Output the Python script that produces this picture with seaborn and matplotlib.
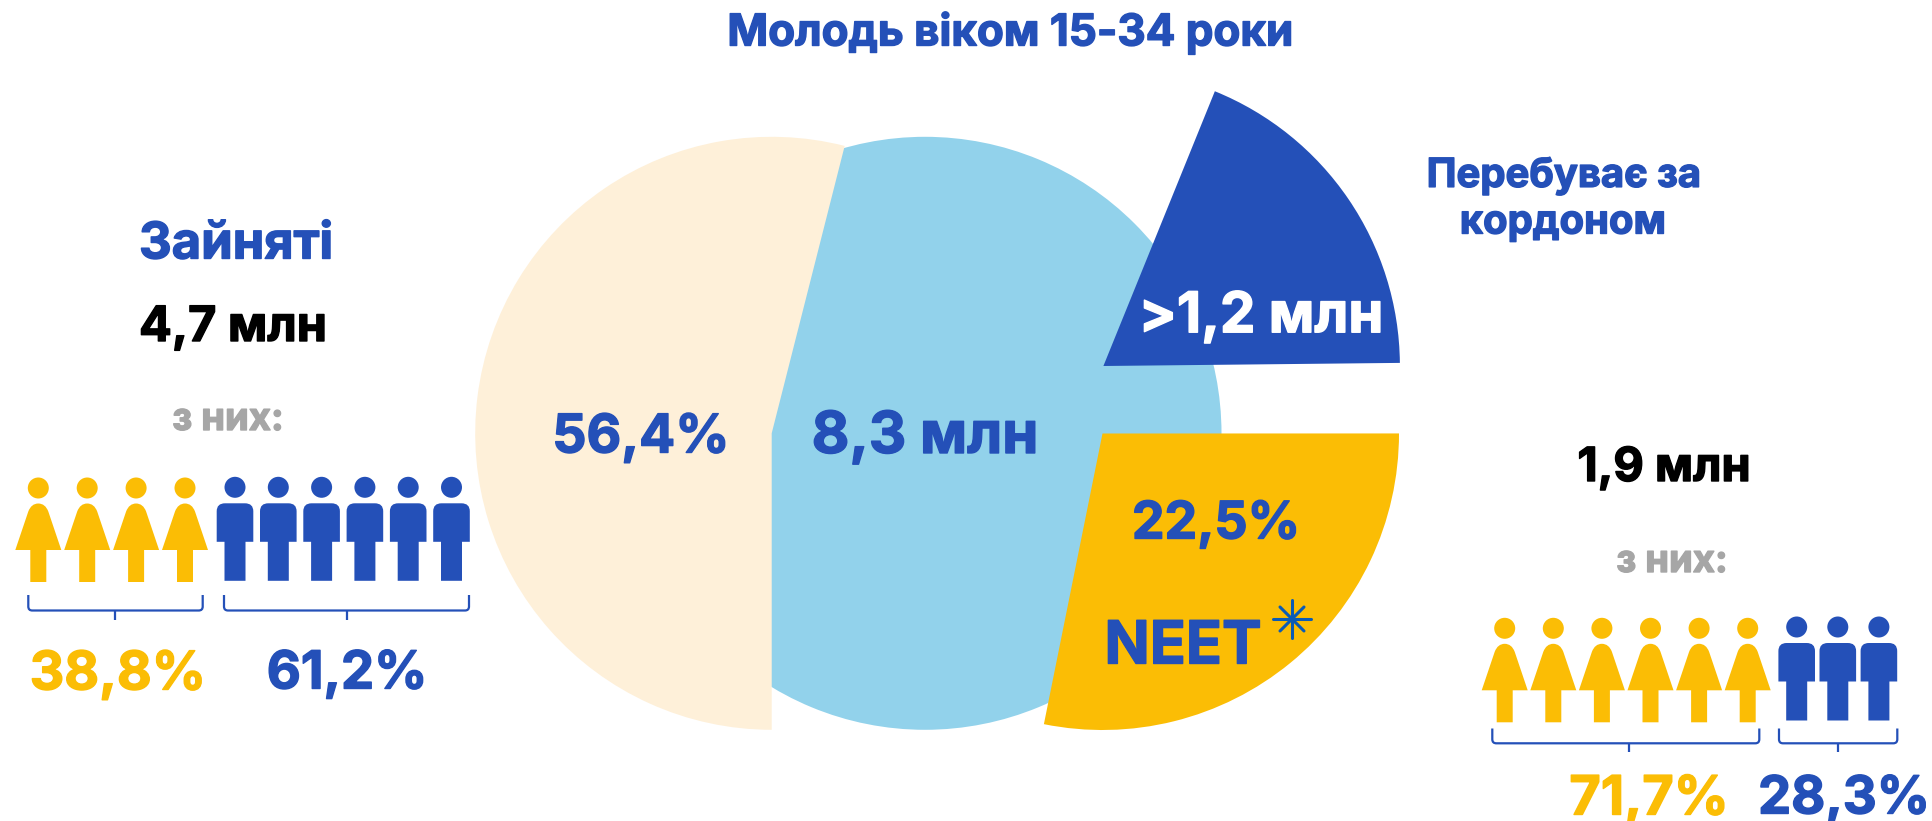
import matplotlib

matplotlib.use("Agg", force=True)
import matplotlib.patheffects as pe
import matplotlib.pyplot as plt
import seaborn as sns
from matplotlib.patches import Circle, PathPatch
from matplotlib.path import Path

WIDTH, HEIGHT = 1933, 821

# pie slices as drawn (percent of a full turn), the picture is not to scale
cream_slice = [53.96, 46.04]
total_slice = [100.0]
abroad_slice = [18.7, 81.3]
neet_slice = [28.17, 71.83]

title = "Молодь віком 15-34 роки"
employed_label = "Зайняті"
employed_total = "4,7 млн"
neet_total = "1,9 млн"
of_them = "з них:"
abroad_label = ["Перебуває за", "кордоном"]
employed_share = "56,4%"
youth_total = "8,3 млн"
abroad_total = ">1,2 млн"
neet_share = "22,5%"
neet_label = "NEET"

employed_women_count = 4
employed_men_count = 6
neet_women_count = 6
neet_men_count = 3
employed_women_pct = "38,8%"
employed_men_pct = "61,2%"
neet_women_pct = "71,7%"
neet_men_pct = "28,3%"

CREAM, SKY, BLUE, YELLOW = sns.color_palette(["#FEF0D9", "#92D2EB", "#2450B8", "#FBBD05"])
GREY = "#A6A6A6"


def fy(y):
    # reference pixels count from the top, the axes from the bottom
    return HEIGHT - y


def add_text(ax, x, y, text, color=BLUE, size=40, ha="center"):
    # the original typeface is heavier than Inter Bold, a thin stroke makes up for it
    ax.text(
        x,
        fy(y),
        text,
        color=color,
        fontsize=size,
        fontweight="bold",
        ha=ha,
        va="center",
        zorder=10,
        path_effects=[pe.withStroke(linewidth=1.0, foreground=color)],
    )


def add_slice(ax, values, color, center, start):
    colors = [color, (0, 0, 0, 0)][: len(values)]
    ax.pie(
        values,
        colors=colors,
        center=(center[0], fy(center[1])),
        radius=296.5,
        startangle=start,
        counterclock=True,
        wedgeprops={"linewidth": 0},
        normalize=True,
    )


def add_woman(ax, x, head_y):
    ax.add_patch(Circle((x, fy(head_y)), 10.5, color=YELLOW, lw=0))
    top, skirt, foot = head_y + 15.5, head_y + 62, head_y + 94
    verts = [
        (x - 23, skirt),
        (x - 10, top + 8),
        (x - 7, top),
        (x, top),
        (x + 7, top),
        (x + 10, top + 8),
        (x + 23, skirt),
        (x + 8, skirt),
        (x + 8, foot),
        (x - 8, foot),
        (x - 8, skirt),
        (x - 23, skirt),
    ]
    codes = [Path.MOVETO, Path.LINETO, Path.CURVE3, Path.CURVE3, Path.CURVE3, Path.CURVE3] + [Path.LINETO] * 6
    path = Path([(vx, fy(vy)) for vx, vy in verts], codes)
    ax.add_patch(PathPatch(path, facecolor=YELLOW, lw=0))


def add_man(ax, x, head_y):
    ax.add_patch(Circle((x, fy(head_y)), 10.5, color=BLUE, lw=0))
    top, waist, foot = head_y + 16, head_y + 54.5, head_y + 93.5
    verts = [
        (x - 18.3, waist),
        (x - 18.3, top + 8),
        (x - 18.3, top),
        (x - 10, top),
        (x + 10, top),
        (x + 18.3, top),
        (x + 18.3, top + 8),
        (x + 18.3, waist),
        (x + 10.5, waist),
        (x + 10.5, foot),
        (x - 10.5, foot),
        (x - 10.5, waist),
        (x - 18.3, waist),
    ]
    codes = [Path.MOVETO, Path.LINETO, Path.CURVE3, Path.CURVE3, Path.LINETO, Path.CURVE3, Path.CURVE3] + [Path.LINETO] * 6
    path = Path([(vx, fy(vy)) for vx, vy in verts], codes)
    ax.add_patch(PathPatch(path, facecolor=BLUE, lw=0))


def add_bracket(ax, x0, x1, stem_x, y_top, y_bottom, y_stem):
    r = 4
    verts = [
        (x0, y_top),
        (x0, y_bottom - r),
        (x0, y_bottom),
        (x0 + r, y_bottom),
        (x1 - r, y_bottom),
        (x1, y_bottom),
        (x1, y_bottom - r),
        (x1, y_top),
    ]
    codes = [Path.MOVETO, Path.LINETO, Path.CURVE3, Path.CURVE3, Path.LINETO, Path.CURVE3, Path.CURVE3, Path.LINETO]
    path = Path([(vx, fy(vy)) for vx, vy in verts], codes)
    ax.add_patch(PathPatch(path, facecolor="none", edgecolor=BLUE, lw=1.6))
    ax.plot([stem_x, stem_x], [fy(y_bottom), fy(y_stem)], color=BLUE, lw=1.6, solid_capstyle="butt")


def add_star(ax, x, y):
    for dx, dy in [(19, 0), (0, 19), (12, 12), (12, -12)]:
        ax.plot([x - dx, x + dx], [fy(y - dy), fy(y + dy)], color="#0B5BB5", lw=2.2, zorder=11)


def main():
    sns.set_theme(style="white")
    plt.rcParams["font.family"] = ["Inter", "DejaVu Sans"]

    fig = plt.figure(figsize=(WIDTH / 100, HEIGHT / 100), dpi=100)
    ax = fig.add_axes([0, 0, 1, 1])

    add_slice(ax, total_slice, SKY, (925, 433.3), 0)
    add_slice(ax, cream_slice, CREAM, (771.7, 433.3), 75.75)
    add_slice(ax, abroad_slice, BLUE, (1103.4, 366), 0.6)
    add_slice(ax, neet_slice, YELLOW, (1102.5, 433.5), 258.6)

    for i in range(employed_women_count):
        add_woman(ax, 38.3 + i * 48.9, 488)
    for i in range(employed_men_count):
        add_man(ax, 235 + i * 43.3, 487.3)
    for i in range(neet_women_count):
        add_woman(ax, 1504.7 + i * 48.6, 628.3)
    for i in range(neet_men_count):
        add_man(ax, 1796.7 + i * 41.1, 627)

    add_bracket(ax, 28.3, 202.7, 115, 595, 610.5, 619.5)
    add_bracket(ax, 224, 469, 346.7, 595, 610.5, 619.5)
    add_bracket(ax, 1492.3, 1759.3, 1629.3, 728.5, 743.3, 752)
    add_bracket(ax, 1779, 1897.3, 1838.3, 728.5, 743.3, 752)

    add_text(ax, 1010, 33, title, size=31.6)
    add_text(ax, 139, 245, employed_label, size=36.5, ha="left")
    add_text(ax, 139, 328, employed_total, color="black", size=35, ha="left")
    add_text(ax, 228, 420, of_them, color=GREY, size=27.5)
    add_text(ax, 1564, 176, abroad_label[0], size=28.8)
    add_text(ax, 1563, 223, abroad_label[1], size=28.8)
    add_text(ax, 1664, 469, neet_total, color="black", size=33.8)
    add_text(ax, 1672, 562, of_them, color=GREY, size=27.5)

    add_text(ax, 641, 438, employed_share, size=38.5)
    add_text(ax, 925, 438, youth_total, size=41.8)
    add_text(ax, 1261, 317, abroad_total, color="white", size=40.5)
    add_text(ax, 1216, 525, neet_share, size=37.3)
    add_text(ax, 1183, 648, neet_label, size=42.8)
    add_star(ax, 1292, 619)

    add_text(ax, 118, 675, employed_women_pct, color=YELLOW, size=38.5)
    add_text(ax, 347, 675, employed_men_pct, size=37.8)
    add_text(ax, 1649, 800, neet_women_pct, color=YELLOW, size=39)
    add_text(ax, 1844, 800, neet_men_pct, size=37.8)

    ax.set_xlim(0, WIDTH)
    ax.set_ylim(0, HEIGHT)
    ax.set_axis_off()
    fig.savefig("out.png", dpi=100, facecolor="white")
    plt.close(fig)


if __name__ == "__main__":
    main()
